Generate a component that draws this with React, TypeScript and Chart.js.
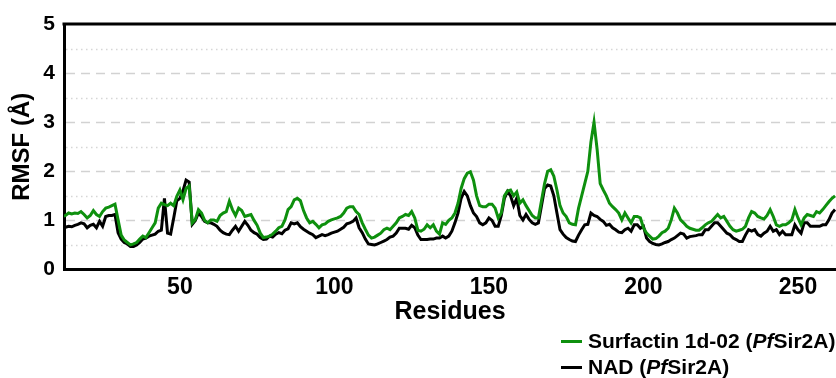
import React, { useEffect, useRef } from "react";
import { Chart, registerables } from "chart.js";

Chart.register(...registerables);

// ---- data ----
const startResidue = 12;
const xMin = 12.5;
const xMax = 262.3;
const xTickValues = [50, 100, 150, 200, 250];
const yTickValues = [0, 1, 2, 3, 4, 5];
const dashedGrid = [1, 2, 3, 4];
const dottedGrid = [0.5, 1.5, 2.5, 3.5, 4.5];

const seriesNames = ["Surfactin 1d-02 (PfSir2A)", "NAD (PfSir2A)"];
const seriesColors = ["#0e900e", "#000000"];

// RMSF per residue, residues 12..262
const surfactin = [
  1.08, 1.10, 1.15, 1.13, 1.15, 1.14, 1.18, 1.12, 1.05, 1.10, // 12-21
  1.20, 1.12, 1.08, 1.18, 1.25, 1.27, 1.30, 1.33, 1.01, 0.70, // 22-31
  0.60, 0.55, 0.50, 0.52, 0.55, 0.62, 0.68, 0.65, 0.75, 0.85, // 32-41
  0.95, 1.25, 1.35, 1.32, 1.30, 1.35, 1.30, 1.49, 1.62, 1.42, // 42-51
  1.65, 1.70, 0.95, 1.02, 1.22, 1.15, 1.00, 0.95, 1.01, 1.01, // 52-61
  0.98, 1.10, 1.15, 1.18, 1.39, 1.22, 1.10, 1.25, 1.20, 1.08, // 62-71
  1.10, 1.12, 1.00, 0.90, 0.74, 0.65, 0.66, 0.68, 0.72, 0.78, // 72-81
  0.85, 0.88, 1.01, 1.22, 1.28, 1.42, 1.45, 1.40, 1.20, 1.05, // 82-91
  0.95, 0.98, 0.92, 0.85, 0.91, 0.93, 0.98, 1.01, 1.03, 1.05, // 92-101
  1.08, 1.15, 1.25, 1.28, 1.28, 1.18, 1.12, 0.95, 0.82, 0.70, // 102-111
  0.64, 0.66, 0.70, 0.74, 0.81, 0.84, 0.81, 0.88, 0.95, 1.05, // 112-121
  1.08, 1.12, 1.10, 1.18, 1.05, 0.80, 0.78, 0.82, 0.91, 0.85, // 122-131
  0.91, 0.78, 0.72, 0.95, 0.92, 1.00, 1.05, 1.15, 1.35, 1.65, // 132-141
  1.85, 1.96, 1.99, 1.82, 1.50, 1.30, 1.28, 1.28, 1.33, 1.33, // 142-151
  1.25, 1.05, 1.15, 1.50, 1.60, 1.62, 1.50, 1.58, 1.35, 1.42, // 152-161
  1.30, 1.20, 1.10, 1.05, 1.05, 1.40, 1.75, 2.00, 2.03, 1.90, // 162-171
  1.62, 1.30, 1.15, 1.08, 0.95, 0.92, 0.91, 1.25, 1.50, 1.75, // 172-181
  2.00, 2.60, 3.00, 2.45, 1.75, 1.62, 1.50, 1.35, 1.28, 1.22, // 182-191
  1.15, 1.01, 1.15, 1.05, 0.95, 1.08, 1.08, 1.05, 0.85, 0.74, // 192-201
  0.68, 0.62, 0.63, 0.68, 0.75, 0.78, 0.84, 1.01, 1.25, 1.15, // 202-211
  1.01, 0.95, 0.88, 0.84, 0.82, 0.80, 0.80, 0.85, 0.91, 0.95, // 212-221
  0.98, 1.05, 1.12, 1.05, 1.08, 0.98, 0.88, 0.81, 0.78, 0.80, // 222-231
  0.82, 0.88, 1.05, 1.18, 1.15, 1.08, 1.05, 1.03, 1.10, 1.22, // 232-241
  1.08, 0.91, 0.88, 0.91, 0.91, 0.95, 1.01, 1.22, 1.05, 0.91, // 242-251
  1.05, 1.12, 1.10, 1.08, 1.18, 1.15, 1.22, 1.30, 1.38, 1.45, // 252-261
  1.50, // 262
];

const nad = [
  0.85, 0.86, 0.88, 0.87, 0.90, 0.92, 0.95, 0.93, 0.85, 0.90, // 12-21
  0.92, 0.85, 0.98, 0.88, 1.08, 1.10, 1.10, 1.12, 0.75, 0.62, // 22-31
  0.55, 0.52, 0.47, 0.47, 0.50, 0.55, 0.62, 0.64, 0.68, 0.70, // 32-41
  0.72, 0.78, 0.80, 1.45, 0.74, 0.72, 1.05, 1.40, 1.45, 1.60, // 42-51
  1.82, 1.78, 0.92, 1.00, 1.15, 1.08, 0.98, 0.95, 0.95, 0.92, // 52-61
  0.88, 0.80, 0.75, 0.72, 0.71, 0.80, 0.88, 0.78, 0.88, 0.98, // 62-71
  0.90, 0.80, 0.75, 0.72, 0.65, 0.61, 0.62, 0.68, 0.66, 0.72, // 72-81
  0.75, 0.73, 0.80, 0.83, 0.95, 0.93, 0.95, 0.87, 0.82, 0.78, // 82-91
  0.74, 0.71, 0.65, 0.68, 0.71, 0.69, 0.71, 0.74, 0.76, 0.78, // 92-101
  0.82, 0.86, 0.93, 0.95, 0.98, 1.05, 0.85, 0.75, 0.62, 0.52, // 102-111
  0.51, 0.50, 0.52, 0.55, 0.58, 0.61, 0.66, 0.68, 0.74, 0.84, // 112-121
  0.84, 0.84, 0.82, 0.90, 0.85, 0.70, 0.61, 0.61, 0.61, 0.62, // 122-131
  0.62, 0.64, 0.64, 0.68, 0.64, 0.68, 0.78, 0.95, 1.15, 1.45, // 132-141
  1.59, 1.50, 1.30, 1.15, 1.08, 0.95, 0.91, 0.95, 1.05, 1.00, // 142-151
  0.88, 0.88, 1.10, 1.45, 1.59, 1.50, 1.30, 1.45, 1.10, 1.01, // 152-161
  1.12, 1.02, 0.95, 0.92, 0.95, 1.30, 1.65, 1.72, 1.70, 1.50, // 162-171
  1.15, 0.81, 0.72, 0.65, 0.61, 0.58, 0.57, 0.70, 0.81, 0.91, // 172-181
  0.92, 1.15, 1.10, 1.08, 1.02, 0.98, 0.90, 0.92, 0.85, 0.81, // 182-191
  0.76, 0.75, 0.81, 0.84, 0.78, 0.91, 0.91, 0.84, 0.88, 0.64, // 192-201
  0.57, 0.53, 0.51, 0.50, 0.52, 0.55, 0.57, 0.61, 0.64, 0.69, // 202-211
  0.74, 0.72, 0.64, 0.67, 0.68, 0.69, 0.71, 0.71, 0.81, 0.81, // 212-221
  0.88, 0.95, 0.95, 0.88, 0.81, 0.74, 0.71, 0.64, 0.61, 0.57, // 222-231
  0.57, 0.70, 0.81, 0.78, 0.81, 0.71, 0.68, 0.74, 0.78, 0.88, // 232-241
  0.78, 0.81, 0.71, 0.78, 0.71, 0.71, 0.71, 0.91, 0.81, 0.74, // 242-251
  0.95, 0.95, 0.88, 0.88, 0.88, 0.88, 0.91, 0.91, 1.01, 1.15, // 252-261
  1.22, // 262
];

const FONT = "'Liberation Sans', Arial, Helvetica, sans-serif";

const toPoints = (vals: number[]) =>
  vals.map((v, i) => ({ x: startResidue + i, y: v }));

const gridPlugin = {
  id: "customGrid",
  beforeDatasetsDraw(chart: any) {
    const { ctx, chartArea, scales } = chart;
    const { left, right } = chartArea;
    const y = scales.y;
    ctx.save();
    ctx.lineWidth = 1.5;
    ctx.strokeStyle = "#d2d2d2";
    ctx.setLineDash([9, 6]);
    dashedGrid.forEach((v) => {
      const py = Math.round(y.getPixelForValue(v)) + 0.5;
      ctx.beginPath();
      ctx.moveTo(left + 2, py);
      ctx.lineTo(right, py);
      ctx.stroke();
    });
    ctx.strokeStyle = "#d6d6d6";
    ctx.setLineDash([1.5, 3.5]);
    dottedGrid.forEach((v) => {
      const py = Math.round(y.getPixelForValue(v)) + 0.5;
      ctx.beginPath();
      ctx.moveTo(left + 2, py);
      ctx.lineTo(right, py);
      ctx.stroke();
    });
    ctx.restore();
  },
  afterDatasetsDraw(chart: any) {
    const { ctx, chartArea } = chart;
    ctx.save();
    ctx.lineWidth = 3;
    ctx.strokeStyle = "#000";
    ctx.setLineDash([]);
    ctx.beginPath();
    ctx.moveTo(chartArea.left - 1.5, chartArea.top);
    ctx.lineTo(chartArea.right, chartArea.top);
    ctx.stroke();
    ctx.restore();
  },
};

export default function App() {
  const canvasRef = useRef<HTMLCanvasElement | null>(null);

  useEffect(() => {
    if (!canvasRef.current) return;
    const chart = new Chart(canvasRef.current, {
      type: "line",
      data: {
        datasets: [
          {
            label: seriesNames[0],
            data: toPoints(surfactin),
            borderColor: seriesColors[0],
            backgroundColor: seriesColors[0],
            borderWidth: 3,
            pointRadius: 0,
            tension: 0,
          },
          {
            label: seriesNames[1],
            data: toPoints(nad),
            borderColor: seriesColors[1],
            backgroundColor: seriesColors[1],
            borderWidth: 3,
            pointRadius: 0,
            tension: 0,
          },
        ],
      },
      options: {
        animation: false,
        responsive: false,
        maintainAspectRatio: false,
        layout: { padding: { top: 24, right: 0, bottom: 0, left: 0 } },
        plugins: {
          legend: { display: false },
          tooltip: { enabled: false },
        },
        scales: {
          x: {
            type: "linear",
            min: xMin,
            max: xMax,
            grid: { display: false, drawTicks: false },
            border: { display: true, color: "#000", width: 3 },
            afterBuildTicks: (scale: any) => {
              scale.ticks = xTickValues.map((v) => ({ value: v }));
            },
            ticks: {
              autoSkip: false,
              maxRotation: 0,
              padding: 4,
              color: "#000",
              font: { family: FONT, size: 23, weight: "bold" },
            },
            title: {
              display: true,
              text: "Residues",
              color: "#000",
              font: { family: FONT, size: 25, weight: "bold" },
              padding: { top: 0, bottom: 51 },
            },
            afterFit: (scale: any) => {
              scale.height = 108.5;
            },
          },
          y: {
            type: "linear",
            min: 0,
            max: 5,
            grid: { display: false, drawTicks: false },
            border: { display: true, color: "#000", width: 3 },
            afterBuildTicks: (scale: any) => {
              scale.ticks = yTickValues.map((v) => ({ value: v }));
            },
            ticks: {
              padding: 9,
              color: "#000",
              font: { family: FONT, size: 21, weight: "bold" },
            },
            title: {
              display: true,
              text: "RMSF (Å)",
              color: "#000",
              font: { family: FONT, size: 24, weight: "bold" },
              padding: { top: 8, bottom: 0 },
            },
            afterFit: (scale: any) => {
              scale.width = 64;
            },
          },
        },
      },
      plugins: [gridPlugin],
    } as any);
    return () => chart.destroy();
  }, []);

  const legendRow = (color: string, content: React.ReactNode) => (
    <div style={{ display: "flex", alignItems: "center", height: 26 }}>
      <span
        style={{
          display: "inline-block",
          width: 21,
          height: 3,
          background: color,
          marginRight: 6,
        }}
      />
      <span>{content}</span>
    </div>
  );

  return (
    <div style={{ position: "absolute", left: 0, top: 0, width: 836, height: 378, background: "#fff", overflow: "hidden" }}>
      <canvas ref={canvasRef} width={836} height={378} style={{ display: "block" }} />
      <div
        style={{
          position: "absolute",
          left: 561,
          top: 328,
          fontFamily: FONT,
          fontWeight: "bold",
          fontSize: 21,
          color: "#000",
          lineHeight: "26px",
          whiteSpace: "nowrap",
        }}
      >
        {legendRow(seriesColors[0], <>Surfactin 1d-02 (<i>Pf</i>Sir2A)</>)}
        {legendRow(seriesColors[1], <>NAD (<i>Pf</i>Sir2A)</>)}
      </div>
    </div>
  );
}
